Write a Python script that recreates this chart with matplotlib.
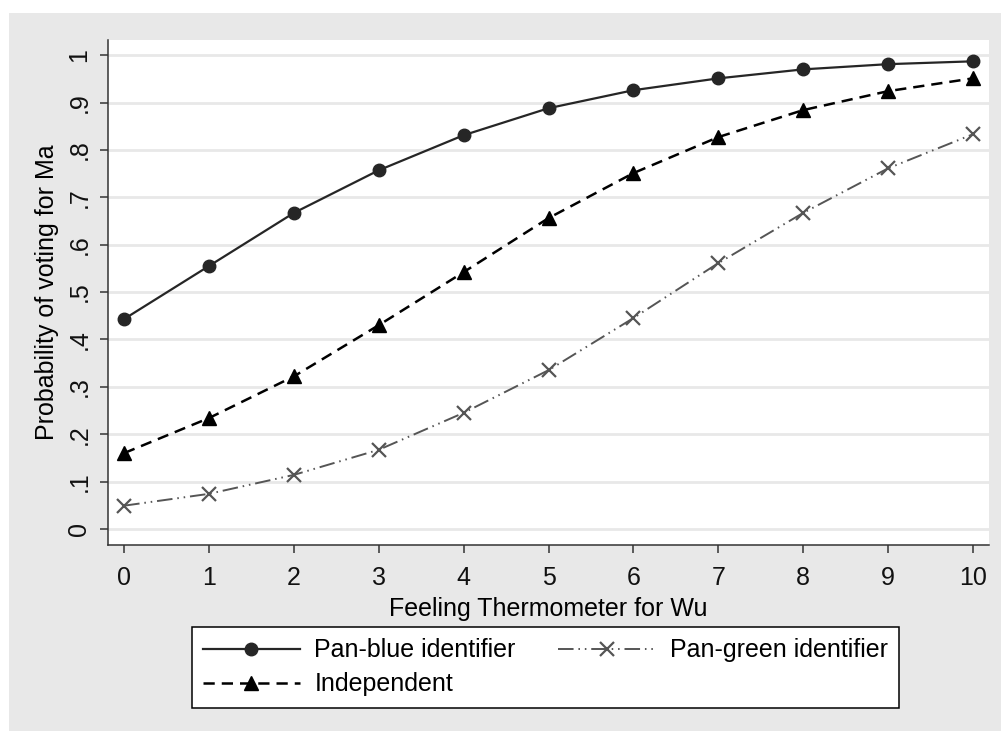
import numpy as np
import matplotlib
matplotlib.use('Agg')
import matplotlib.pyplot as plt
from matplotlib.patches import Rectangle

plt.rcParams['font.family'] = ['Liberation Sans', 'DejaVu Sans']

# predicted probabilities
thermo = [0, 1, 2, 3, 4, 5, 6, 7, 8, 9, 10]
pan_blue = [0.443, 0.555, 0.667, 0.757, 0.831, 0.888, 0.926, 0.951, 0.970, 0.981, 0.987]
independent = [0.160, 0.234, 0.322, 0.430, 0.542, 0.656, 0.751, 0.827, 0.884, 0.924, 0.951]
pan_green = [0.049, 0.074, 0.114, 0.167, 0.245, 0.335, 0.445, 0.561, 0.667, 0.761, 0.833]

y_ticks = [0, .1, .2, .3, .4, .5, .6, .7, .8, .9, 1]
y_ticklabels = ['0', '.1', '.2', '.3', '.4', '.5', '.6', '.7', '.8', '.9', '1']

W, H = 1001, 731
fig = plt.figure(figsize=(W / 100, H / 100), dpi=100)
fig.patch.set_facecolor('white')
# stata-style grey outer region
fig.patches.append(Rectangle((9 / W, 0), 1 - 9 / W, 1 - 13 / H,
                             transform=fig.transFigure, facecolor='#e8e8e8',
                             edgecolor='none', zorder=-10))

ax = fig.add_axes([108 / W, (H - 545) / H, (989 - 108) / W, (545 - 40) / H])
ax.set_zorder(1)
ax.set_facecolor('white')

ax.plot(thermo, pan_blue, '-', color='#262626', lw=1.6, marker='o',
        markersize=9, label='Pan-blue identifier', zorder=3)
l_ind, = ax.plot(thermo, independent, color='black', lw=1.8, marker='^',
                 markersize=10.5, label='Independent', zorder=3)
l_ind.set_dashes((4.5, 2.8))
l_grn, = ax.plot(thermo, pan_green, color='#555555', lw=1.4, marker='x',
                 markersize=10.5, mew=1.6, label='Pan-green identifier', zorder=3)
l_grn.set_dashes((8, 2.5, 0.8, 2.5, 0.8, 2.5))

ax.set_xlim(-0.19, 10.19)
ax.set_ylim(-0.034, 1.032)
ax.set_xticks(thermo)
ax.set_yticks(y_ticks)
ax.set_yticklabels(y_ticklabels, rotation=90, va='center')
ax.tick_params(axis='both', labelsize=18, length=6, width=1.1, color='#333333',
               labelcolor='#111111')
ax.tick_params(axis='x', pad=9)
ax.tick_params(axis='y', pad=6)

ax.grid(axis='y', color='#e8e8e8', lw=2)
ax.set_axisbelow(True)
for s in ['top', 'right']:
    ax.spines[s].set_visible(False)
for s in ['left', 'bottom']:
    ax.spines[s].set_color('#333333')
    ax.spines[s].set_linewidth(1.1)

ax.set_xlabel('Feeling Thermometer for Wu', fontsize=18, labelpad=5)
ax.set_ylabel('Probability of voting for Ma', fontsize=18, labelpad=6)

h, lab = ax.get_legend_handles_labels()
leg = fig.legend(h, lab, ncol=2,
                 loc='upper left', bbox_to_anchor=(192 / W, 1 - 627 / H),
                 fontsize=18, frameon=True, fancybox=False, handlelength=3.85,
                 columnspacing=1.7, handletextpad=0.6, borderpad=0.45,
                 labelspacing=0.4, borderaxespad=0, framealpha=1,
                 facecolor='white')
leg.get_frame().set_edgecolor('black')
leg.get_frame().set_linewidth(1.1)

fig.savefig('out.png', dpi=100)
